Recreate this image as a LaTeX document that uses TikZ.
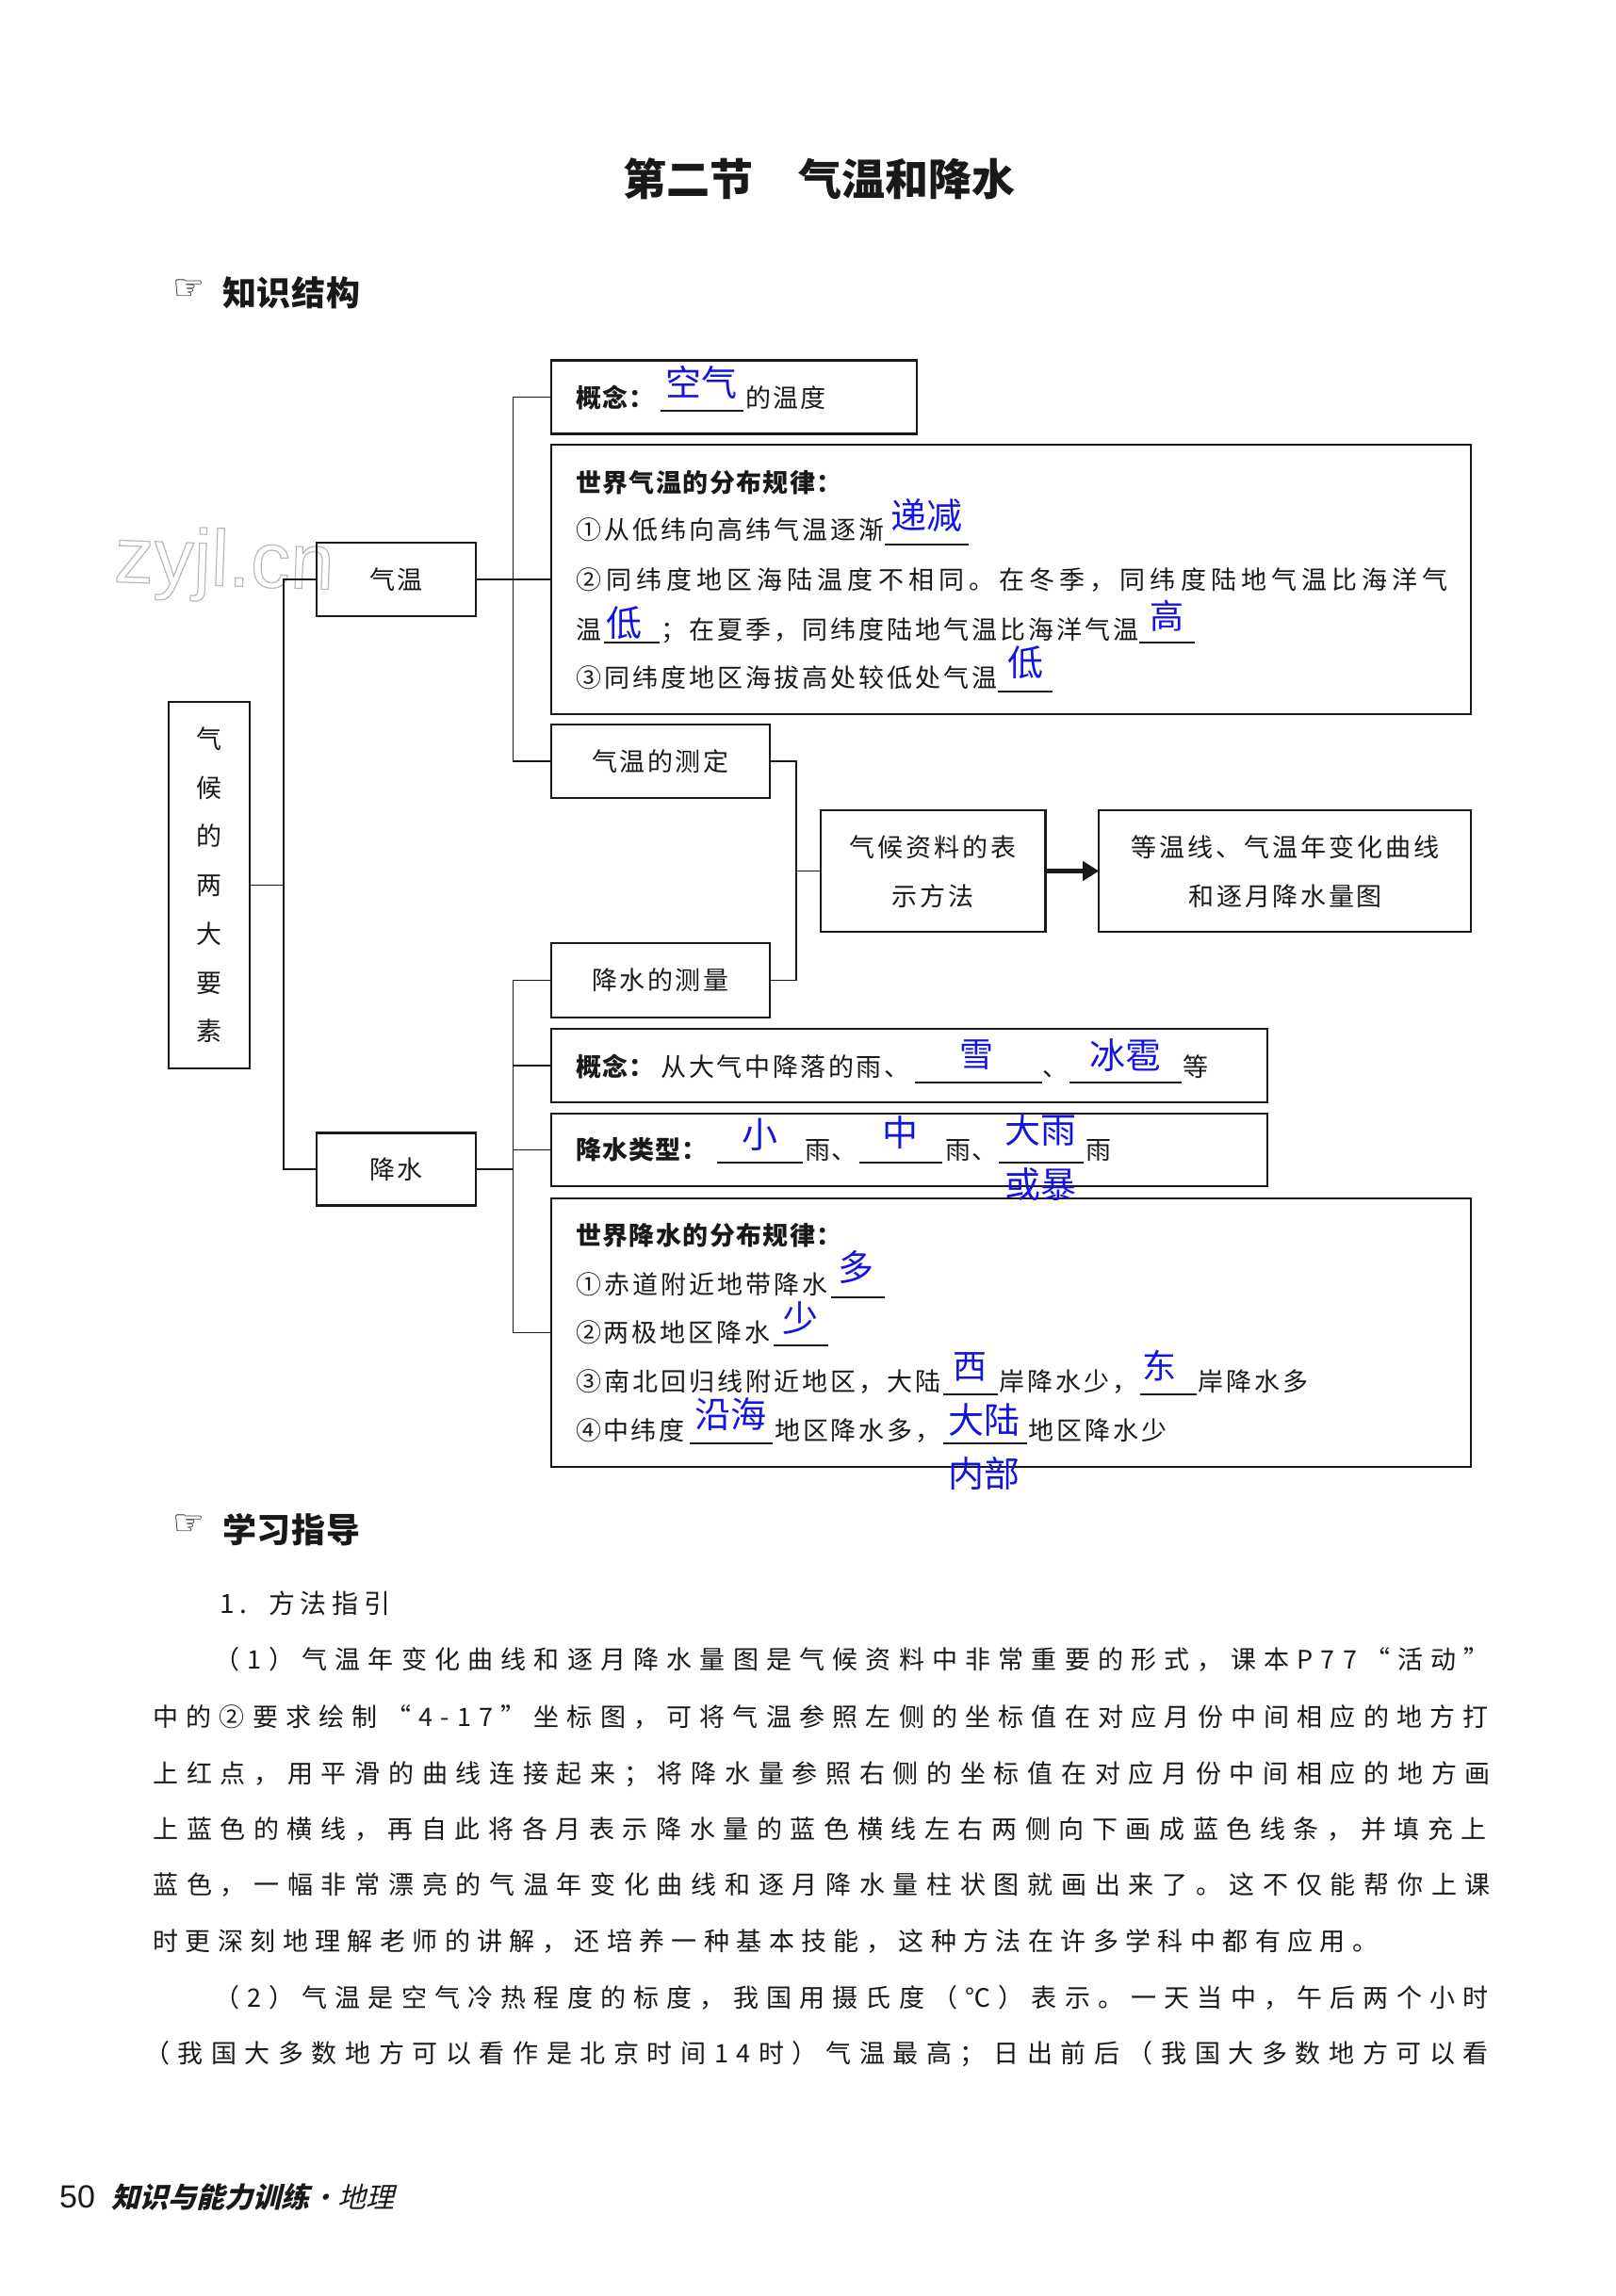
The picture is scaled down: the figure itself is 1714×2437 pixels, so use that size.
\documentclass[tikz,border=0pt]{standalone}
\usepackage{fontspec}
\setmainfont{Noto Sans CJK SC}
\newfontfamily\slantcjk[FakeSlant=0.25]{Noto Sans CJK SC}
\newfontfamily\lat{Liberation Sans}
\newfontfamily\hand{DejaVu Sans}
\usetikzlibrary{arrows.meta}
\definecolor{inkc}{RGB}{25,25,25}
\definecolor{fillb}{RGB}{20,20,225}
\newcommand\ft[2]{\fontsize{#1pt}{#1pt}\selectfont\pgfmathsetmacro\lsp{(#2-#1)/#1*100}\addfontfeature{LetterSpace=\lsp}}
\newcommand\fb[2]{\fontsize{#1pt}{#1pt}\selectfont\bfseries\pgfmathsetmacro\lsp{(#2-#1)/#1*100}\addfontfeature{LetterSpace=\lsp}}
\tikzset{
  x=1pt,y=-1pt,
  tx/.style 2 args={anchor=west,inner sep=0,outer sep=0,text=inkc,font=\ft{#1}{#2},text height={0.88*#1pt},text depth={0.12*#1pt}},
  txb/.style 2 args={anchor=west,inner sep=0,outer sep=0,text=inkc,font=\fb{#1}{#2},text height={0.88*#1pt},text depth={0.12*#1pt}},
  blu/.style={anchor=center,inner sep=0,outer sep=0,text=fillb,font=\ft{#1}{#1},text height={0.88*#1pt},text depth={0.12*#1pt}},
  bx/.style 2 args={draw=inkc,line width=2.2pt,inner sep=0,outer sep=0,minimum width=#1pt,minimum height=#2pt,anchor=center,text=inkc,align=center},
  conn/.style={draw=inkc,line width=1.8pt},
  ul/.style={draw=inkc,line width=1.6pt},
}
\begin{document}
\begin{tikzpicture}
\useasboundingbox (0,0) rectangle (1714,2437);
% watermark
\node[inner sep=0,text=gray!45,font={\lat\fontsize{84pt}{84pt}\selectfont},rotate=-2] (wm) at (238,600) {\special{pdf:code q 1 Tr 1.2 w 0.72 G}zyjl.cn\special{pdf:code Q}};
% title
\node[txb={46}{46}] (t1) at (661,190) {第二节};
\node[txb={46}{46}] (t2) at (847,190) {气温和降水};
% headings
\node[inner sep=0,text=inkc,font={\hand\fontsize{38pt}{38pt}\selectfont}] (h1i) at (201,308) {☞};
\node[txb={36}{37}] (h1) at (236,311) {知识结构};
\node[inner sep=0,text=inkc,font={\hand\fontsize{38pt}{38pt}\selectfont}] (h2i) at (201,1619) {☞};
\node[txb={36}{37}] (h2) at (236,1624) {学习指导};
\begin{scope}[x=0.9949pt,xshift=1.2pt]
% boxes
\node[bx={85.6}{389},font=\ft{27}{27}] (qh) at (222,939.5) {};
\node[tx={27}{27},anchor=center] (q1) at (222,784) {气};
\node[tx={27}{27},anchor=center] (q2) at (222,836) {候};
\node[tx={27}{27},anchor=center] (q3) at (222,887) {的};
\node[tx={27}{27},anchor=center] (q4) at (222,939) {两};
\node[tx={27}{27},anchor=center] (q5) at (222,991) {大};
\node[tx={27}{27},anchor=center] (q6) at (222,1043) {要};
\node[tx={27}{27},anchor=center] (q7) at (222,1094) {素};
\node[bx={168.6}{78.5},font=\ft{27}{29}] (qw) at (421.25,615) {气温};
\node[bx={168.6}{77},font=\ft{27}{29}] (js) at (421.25,1241) {降水};
\node[bx={388.5}{78}] (gn1) at (781.75,421.5) {};
\node[bx={976.5}{286.5}] (wt) at (1077.25,615) {};
\node[bx={232.3}{78},font=\ft{27}{29.4}] (cd) at (703.25,808) {气温的测定};
\node[bx={232.3}{79},font=\ft{27}{29.4}] (jl) at (703.25,1040.5) {降水的测量};
\node[bx={238.8}{129}] (zl) at (994,924.5) {};
\node[bx={395}{129}] (dw) at (1369.5,924.5) {};
\node[bx={760.6}{78}] (gn2) at (968.75,1131) {};
\node[bx={760.6}{77}] (lx) at (968.75,1220.5) {};
\node[bx={976.5}{285}] (wj) at (1077.25,1414.5) {};
% connectors
\coordinate (tA) at (301,939.5);
\coordinate (tB) at (546,615);
\coordinate (tC) at (546,1241);
\coordinate (tD) at (848,924.5);
\draw[conn] (qh.east) -- (tA);
\draw[conn] (qw.west) -| (tA) |- (js.west);
\draw[conn] (qw.east) -- (wt.west);
\draw[conn] (gn1.west) -| (tB) |- (cd.west);
\draw[conn] (js.east) -- (tC);
\draw[conn] (jl.west) -| (tC) |- (wj.west);
\draw[conn] (gn2.west) -- (gn2.west -| tC);
\draw[conn] (lx.west) -- (lx.west -| tC);
\draw[conn] (cd.east) -| (tD) |- (jl.east);
\draw[conn] (tD) -- (zl.west);
\draw[draw=inkc,line width=4.5pt,-{Triangle[length=17pt,width=20pt]}] (zl.east) -- (dw.west);
% box texts
\node[tx={27}{29.9},anchor=center] (z1) at (994,899) {气候资料的表};
\node[tx={27}{29.9},anchor=center] (z2) at (994,951) {示方法};
\node[tx={27}{30},anchor=center] (d1) at (1370,899) {等温线、气温年变化曲线};
\node[tx={27}{29.7},anchor=center] (d2) at (1370,951) {和逐月降水量图};
% concept 1
\node[txb={27}{28}] (a1) at (613,422) {概念：};
\node[tx={27}{29}] (a2) at (794,422) {的温度};
\draw[ul] (703,436) -- (792,436);
% world temp
\node[txb={27}{28.4}] (b0) at (613,512) {世界气温的分布规律：};
\node[tx={27}{30}] (b1) at (613,562) {①从低纬向高纬气温逐渐};
\draw[ul] (943,578) -- (1032,578);
\node[tx={27}{32.1}] (b2) at (613,615) {②同纬度地区海陆温度不相同。在冬季，同纬度陆地气温比海洋气};
\node[tx={27}{27}] (b3) at (613,668) {温};
\draw[ul] (643,682) -- (702,682);
\node[tx={27}{30}] (b4) at (704,668) {；在夏季，同纬度陆地气温比海洋气温};
\draw[ul] (1214,682) -- (1273,682);
\node[tx={27}{30}] (b5) at (613,719) {③同纬度地区海拔高处较低处气温};
\draw[ul] (1063,734) -- (1122,734);
% concept 2
\node[txb={27}{28}] (c1) at (613,1132) {概念：};
\node[tx={27}{29.6}] (c2) at (704,1132) {从大气中降落的雨、};
\draw[ul] (975,1149) -- (1110,1149);
\node[tx={27}{27}] (c3) at (1111,1132) {、};
\draw[ul] (1140,1149) -- (1259,1149);
\node[tx={27}{27}] (c4) at (1261,1132) {等};
% type
\node[txb={27}{28}] (e1) at (613,1220) {降水类型：};
\draw[ul] (764,1234) -- (855,1234);
\node[tx={27}{28}] (e2) at (858,1220) {雨、};
\draw[ul] (915,1234) -- (1004,1234);
\node[tx={27}{28}] (e3) at (1007,1220) {雨、};
\draw[ul] (1064,1234) -- (1155,1234);
\node[tx={27}{28}] (e4) at (1157,1220) {雨};
% world rain
\node[txb={27}{28.4}] (f0) at (613,1311) {世界降水的分布规律：};
\node[tx={27}{30}] (f1) at (613,1363) {①赤道附近地带降水};
\draw[ul] (885,1377) -- (943,1377);
\node[tx={27}{29.9}] (f2) at (613,1414) {②两极地区降水};
\draw[ul] (824,1428) -- (882,1428);
\node[tx={27}{30}] (f3) at (613,1466) {③南北回归线附近地区，大陆};
\draw[ul] (1005,1480) -- (1063,1480);
\node[tx={27}{30}] (f4) at (1065,1466) {岸降水少，};
\draw[ul] (1215,1480) -- (1275,1480);
\node[tx={27}{30}] (f5) at (1277,1466) {岸降水多};
\node[tx={27}{29.4}] (f6) at (613,1518) {④中纬度};
\draw[ul] (735,1532) -- (823,1532);
\node[tx={27}{30}] (f7) at (825,1518) {地区降水多，};
\draw[ul] (1005,1532) -- (1094,1532);
\node[tx={27}{30}] (f8) at (1096,1518) {地区降水少};
% handwriting
\node[blu=38] (w1) at (747,406) {空气};
\node[blu=38] (w2) at (987.5,547) {递减};
\node[blu=38] (w3) at (665,661) {低};
\node[blu=36] (w4) at (1244,654) {高};
\node[blu=38] (w5) at (1093,703) {低};
\node[blu=36] (w6) at (1041,1119) {雪};
\node[blu=38] (w7) at (1199,1120) {冰雹};
\node[blu=38] (w8) at (809,1204) {小};
\node[blu=38] (w9) at (959,1202) {中};
\node[blu=38] (w10) at (1109,1199) {大雨};
\node[blu=38] (w11) at (1109,1257) {或暴};
\node[blu=38] (w12) at (912,1345) {多};
\node[blu=38] (w13) at (853,1399) {少};
\node[blu=36] (w14) at (1034,1450) {西};
\node[blu=36] (w15) at (1236,1450) {东};
\node[blu=38] (w16) at (778,1501) {沿海};
\node[blu=38] (w17) at (1049,1507) {大陆};
\node[blu=38] (w18) at (1049,1564) {内部};
\end{scope}
% body text
\node[tx={28}{34}] (p0a) at (233,1702) {1.};
\node[tx={28}{34}] (p0b) at (285,1702) {方法指引};
\node[tx={27}{35.2}] (p1) at (227,1761) {（1）气温年变化曲线和逐月降水量图是气候资料中非常重要的形式，课本P77“活动”};
\node[tx={27}{35.22}] (p2) at (162.5,1822) {中的②要求绘制“4-17”坐标图，可将气温参照左侧的坐标值在对应月份中间相应的地方打};
\node[tx={27}{35.7}] (p3) at (162.5,1882) {上红点，用平滑的曲线连接起来；将降水量参照右侧的坐标值在对应月份中间相应的地方画};
\node[tx={27}{35.6}] (p4) at (162.5,1941) {上蓝色的横线，再自此将各月表示降水量的蓝色横线左右两侧向下画成蓝色线条，并填充上};
\node[tx={27}{35.7}] (p5) at (162.5,2000) {蓝色，一幅非常漂亮的气温年变化曲线和逐月降水量柱状图就画出来了。这不仅能帮你上课};
\node[tx={27}{34.4}] (p6) at (162.5,2060) {时更深刻地理解老师的讲解，还培养一种基本技能，这种方法在许多学科中都有应用。};
\node[tx={27}{35.2}] (p7) at (227,2120) {（2）气温是空气冷热程度的标度，我国用摄氏度（℃）表示。一天当中，午后两个小时};
\node[tx={27}{35.6}] (p8) at (153,2179) {（我国大多数地方可以看作是北京时间14时）气温最高；日出前后（我国大多数地方可以看};
% footer
\node[anchor=west,inner sep=0,text=inkc,font={\lat\fontsize{34pt}{34pt}\selectfont}] (pg) at (63,2332) {50};
\node[anchor=west,inner sep=0,text=inkc,font={\slantcjk\fontsize{30pt}{30pt}\selectfont\bfseries}] (ft1) at (118,2332) {知识与能力训练};
\node[anchor=west,inner sep=0,text=inkc,font={\slantcjk\fontsize{30pt}{30pt}\selectfont}] (ft2) at (328,2332) {·地理};
\end{tikzpicture}
\end{document}
